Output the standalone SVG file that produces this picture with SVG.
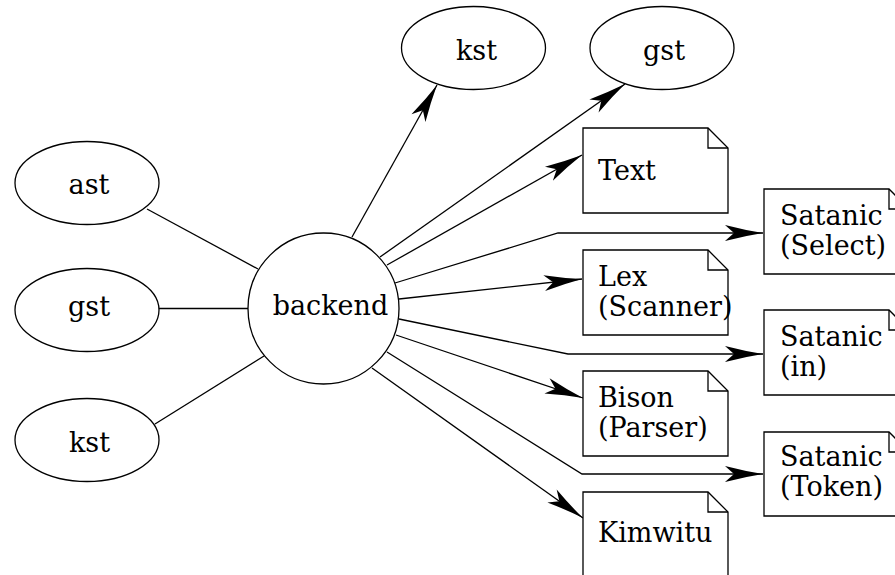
<svg xmlns="http://www.w3.org/2000/svg" width="895" height="575" viewBox="0 0 895 575">
  <defs>
    <style>
      .shape { fill: #ffffff; stroke: #000000; stroke-width: 1.3; }
      .fold { fill: none; stroke: #000000; stroke-width: 1.3; }
      .edge { fill: none; stroke: #000000; stroke-width: 1.3; }
      text { font-family: "DejaVu Serif", "Liberation Serif", serif; font-size: 27px; fill: #000000; }
      .c { text-anchor: middle; }
    </style>
    <marker id="arrow" markerUnits="userSpaceOnUse" markerWidth="40" markerHeight="18" refX="38" refY="9" orient="auto" overflow="visible">
      <path d="M38,9 Q20,6.2 0,1 L9,9 L0,17 Q20,11.8 38,9 Z" fill="#000000"/>
    </marker>
  </defs>

  <rect x="0" y="0" width="895" height="575" fill="#ffffff"/>

  <!-- connectors -->
  <g id="edges">
    <line class="edge" x1="147" y1="209" x2="258" y2="269"/>
    <line class="edge" x1="159" y1="308.5" x2="248" y2="308.5"/>
    <line class="edge" x1="155" y1="424" x2="264" y2="356"/>

    <polyline class="edge" points="352,237 437,85" marker-end="url(#arrow)"/>
    <polyline class="edge" points="380,257 625,84" marker-end="url(#arrow)"/>
    <polyline class="edge" points="387,265 582,155" marker-end="url(#arrow)"/>
    <polyline class="edge" points="395,283 558,233 763,233" marker-end="url(#arrow)"/>
    <polyline class="edge" points="399,299 582,279" marker-end="url(#arrow)"/>
    <polyline class="edge" points="399,319 568,354 763,354" marker-end="url(#arrow)"/>
    <polyline class="edge" points="396,335 583,398" marker-end="url(#arrow)"/>
    <polyline class="edge" points="387,352 582,474 763,474" marker-end="url(#arrow)"/>
    <polyline class="edge" points="372,368 583,518" marker-end="url(#arrow)"/>
  </g>

  <!-- source nodes -->
  <g id="ast">
    <ellipse class="shape" cx="87" cy="183" rx="72" ry="41.5"/>
    <text class="c" x="89" y="194">ast</text>
  </g>
  <g id="gst_in">
    <ellipse class="shape" cx="87" cy="310" rx="72" ry="41.5"/>
    <text class="c" x="89" y="315.5">gst</text>
  </g>
  <g id="kst_in">
    <ellipse class="shape" cx="87" cy="440" rx="72" ry="41.5"/>
    <text class="c" x="89.5" y="451.5">kst</text>
  </g>

  <g id="backend">
    <circle class="shape" cx="323.5" cy="308.5" r="75.5"/>
    <text class="c" x="330.5" y="315">backend</text>
  </g>

  <!-- target nodes -->
  <g id="kst_out">
    <ellipse class="shape" cx="473.5" cy="48" rx="72" ry="41.5"/>
    <text class="c" x="476.5" y="59.5">kst</text>
  </g>
  <g id="gst_out">
    <ellipse class="shape" cx="662" cy="48" rx="72" ry="41.5"/>
    <text class="c" x="664" y="59.5">gst</text>
  </g>

  <g id="text_note">
    <path class="shape" d="M583,128 H708 L728,148 V213 H583 Z"/>
    <path class="fold" d="M708,128 V148 H728"/>
    <text x="598" y="180">Text</text>
  </g>
  <g id="lex_note">
    <path class="shape" d="M583,250 H708 L728,270 V335 H583 Z"/>
    <path class="fold" d="M708,250 V270 H728"/>
    <text x="598" y="286">Lex</text>
    <text x="598" y="316">(Scanner)</text>
  </g>
  <g id="bison_note">
    <path class="shape" d="M583,371 H708 L728,391 V456 H583 Z"/>
    <path class="fold" d="M708,371 V391 H728"/>
    <text x="598" y="407">Bison</text>
    <text x="598" y="437">(Parser)</text>
  </g>
  <g id="kimwitu_note">
    <path class="shape" d="M583,492 H708 L728,512 V577 H583 Z"/>
    <path class="fold" d="M708,492 V512 H728"/>
    <text x="598" y="542">Kimwitu</text>
  </g>

  <g id="satanic_select">
    <path class="shape" d="M764,189 H889 L909,209 V274 H764 Z"/>
    <path class="fold" d="M889,189 V209 H909"/>
    <text x="780" y="225">Satanic</text>
    <text x="780" y="255">(Select)</text>
  </g>
  <g id="satanic_in">
    <path class="shape" d="M764,310 H889 L909,330 V395 H764 Z"/>
    <path class="fold" d="M889,310 V330 H909"/>
    <text x="780" y="346">Satanic</text>
    <text x="780" y="376">(in)</text>
  </g>
  <g id="satanic_token">
    <path class="shape" d="M764,432 H889 L909,452 V516 H764 Z"/>
    <path class="fold" d="M889,432 V452 H909"/>
    <text x="780" y="466">Satanic</text>
    <text x="780" y="496">(Token)</text>
  </g>
</svg>
